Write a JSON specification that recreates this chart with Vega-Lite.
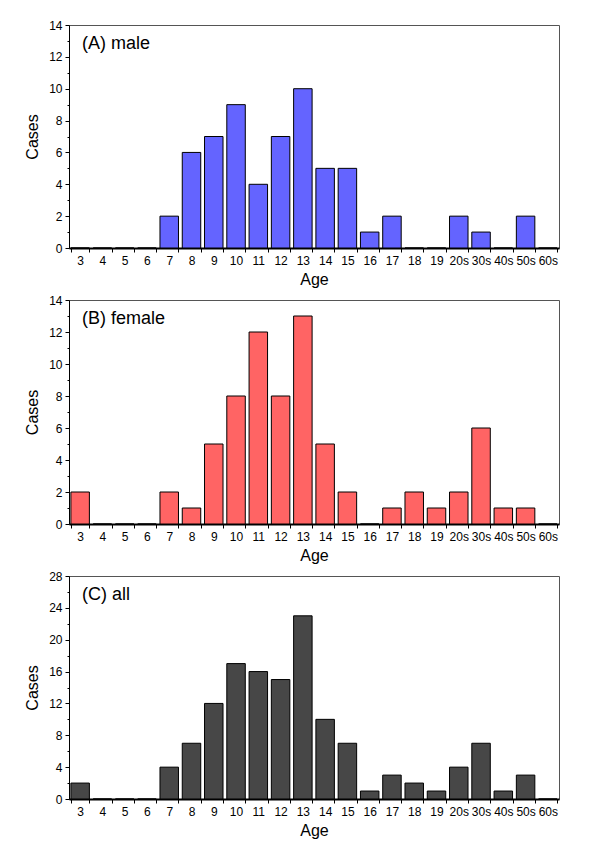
{
  "$schema": "https://vega.github.io/schema/vega-lite/v6.json",
  "padding": {"left": 24, "top": 18, "right": 0, "bottom": 0},
  "background": "white",
  "spacing": 5,
  "config": {
    "font": "Liberation Sans",
    "view": {"stroke": "#555", "strokeWidth": 1},
    "axisX": {"labelAngle": 0, "domainColor": "black", "domainWidth": 2, "tickColor": "black", "tickBand": "extent", "tickSize": 4, "labelFontSize": 12, "labelColor": "black", "titleFontSize": 16, "titleFontWeight": "normal", "titleColor": "black", "labelPadding": 3, "titlePadding": 5, "grid": false},
    "axisY": {"domainColor": "black", "domainWidth": 1, "tickColor": "black", "labelFontSize": 12, "labelColor": "black", "titleFontSize": 16, "titleFontWeight": "normal", "titleColor": "black", "labelPadding": 3, "titlePadding": 8, "grid": false, "labelOverlap": false},
    "title": {"anchor": "start", "frame": "group", "orient": "top", "offset": -34, "baseline": "alphabetic", "dx": 13, "fontSize": 18, "fontWeight": "normal", "color": "black"}
  },
  "datasets": {
    "cases": [
      {"age": "3", "male": 0, "female": 2, "all": 2},
      {"age": "4", "male": 0, "female": 0, "all": 0},
      {"age": "5", "male": 0, "female": 0, "all": 0},
      {"age": "6", "male": 0, "female": 0, "all": 0},
      {"age": "7", "male": 2, "female": 2, "all": 4},
      {"age": "8", "male": 6, "female": 1, "all": 7},
      {"age": "9", "male": 7, "female": 5, "all": 12},
      {"age": "10", "male": 9, "female": 8, "all": 17},
      {"age": "11", "male": 4, "female": 12, "all": 16},
      {"age": "12", "male": 7, "female": 8, "all": 15},
      {"age": "13", "male": 10, "female": 13, "all": 23},
      {"age": "14", "male": 5, "female": 5, "all": 10},
      {"age": "15", "male": 5, "female": 2, "all": 7},
      {"age": "16", "male": 1, "female": 0, "all": 1},
      {"age": "17", "male": 2, "female": 1, "all": 3},
      {"age": "18", "male": 0, "female": 2, "all": 2},
      {"age": "19", "male": 0, "female": 1, "all": 1},
      {"age": "20s", "male": 2, "female": 2, "all": 4},
      {"age": "30s", "male": 1, "female": 6, "all": 7},
      {"age": "40s", "male": 0, "female": 1, "all": 1},
      {"age": "50s", "male": 2, "female": 1, "all": 3},
      {"age": "60s", "male": 0, "female": 0, "all": 0}
    ]
  },
  "vconcat": [
    {
      "width": 490, "height": 223,
      "title": {"text": "(A) male"},
      "data": {"name": "cases"},
      "mark": {"type": "bar", "color": "#6464ff", "stroke": "black", "strokeWidth": 1},
      "encoding": {
        "x": {"field": "age", "type": "nominal", "sort": null, "title": "Age", "scale": {"paddingInner": 0.17, "paddingOuter": 0.085}},
        "y": {"field": "male", "type": "quantitative", "title": "Cases", "scale": {"domain": [0, 14], "nice": false},
          "axis": {"values": [0,1,2,3,4,5,6,7,8,9,10,11,12,13,14], "labelExpr": "datum.value % 2 == 0 ? datum.label : ''", "tickSize": {"condition": {"test": "datum.value % 2 == 0", "value": 4}, "value": 2}}}
      }
    },
    {
      "width": 490, "height": 224,
      "title": {"text": "(B) female"},
      "data": {"name": "cases"},
      "mark": {"type": "bar", "color": "#ff6464", "stroke": "black", "strokeWidth": 1},
      "encoding": {
        "x": {"field": "age", "type": "nominal", "sort": null, "title": "Age", "scale": {"paddingInner": 0.17, "paddingOuter": 0.085}},
        "y": {"field": "female", "type": "quantitative", "title": "Cases", "scale": {"domain": [0, 14], "nice": false},
          "axis": {"values": [0,1,2,3,4,5,6,7,8,9,10,11,12,13,14], "labelExpr": "datum.value % 2 == 0 ? datum.label : ''", "tickSize": {"condition": {"test": "datum.value % 2 == 0", "value": 4}, "value": 2}}}
      }
    },
    {
      "width": 490, "height": 223,
      "title": {"text": "(C) all"},
      "data": {"name": "cases"},
      "mark": {"type": "bar", "color": "#474747", "stroke": "black", "strokeWidth": 1},
      "encoding": {
        "x": {"field": "age", "type": "nominal", "sort": null, "title": "Age", "scale": {"paddingInner": 0.17, "paddingOuter": 0.085}},
        "y": {"field": "all", "type": "quantitative", "title": "Cases", "scale": {"domain": [0, 28], "nice": false},
          "axis": {"values": [0,2,4,6,8,10,12,14,16,18,20,22,24,26,28], "labelExpr": "datum.value % 4 == 0 ? datum.label : ''", "tickSize": {"condition": {"test": "datum.value % 4 == 0", "value": 4}, "value": 2}}}
      }
    }
  ]
}
